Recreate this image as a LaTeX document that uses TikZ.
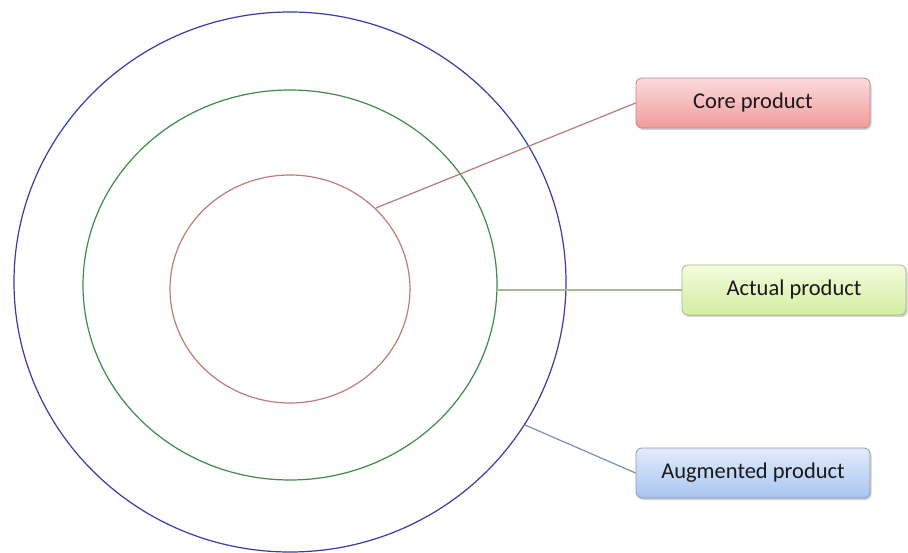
\documentclass[tikz,border=0pt]{standalone}
\usepackage{fontspec}
\setmainfont{Carlito}
\usetikzlibrary{shadows}
\definecolor{ringblue}{HTML}{3A3AA8}
\definecolor{ringgreen}{HTML}{3C8C48}
\definecolor{ringred}{HTML}{C07A7A}
\definecolor{linkred}{HTML}{B87A78}
\definecolor{linkgreen}{HTML}{A8B890}
\definecolor{linkblue}{HTML}{7890B0}
\definecolor{coretop}{HTML}{FCDADA}
\definecolor{corebot}{HTML}{F09C9C}
\definecolor{coreedge}{HTML}{C08888}
\definecolor{acttop}{HTML}{F4FCDC}
\definecolor{actbot}{HTML}{D2EEA0}
\definecolor{actedge}{HTML}{A8B890}
\definecolor{augtop}{HTML}{E2ECFC}
\definecolor{augbot}{HTML}{A8C4F0}
\definecolor{augedge}{HTML}{8898B8}
\tikzset{
  ring/.style={line width=1.2pt},
  link/.style={line width=1.2pt},
  label box/.style={rounded corners=6pt, minimum height=50pt, align=center,
    font=\fontsize{22.5}{26}\selectfont, text=black!90, line width=0.8pt,
    drop shadow={shadow xshift=1.5pt, shadow yshift=-2pt, opacity=0.35}},
  corebox/.style={label box, draw=coreedge, minimum width=234pt,
    top color=coretop, bottom color=corebot},
  actualbox/.style={label box, draw=actedge, minimum width=224pt,
    top color=acttop, bottom color=actbot},
  augbox/.style={label box, draw=augedge, minimum width=234pt,
    top color=augtop, bottom color=augbot},
}
\begin{document}
\begin{tikzpicture}[x=1pt, y=-1pt]
  \useasboundingbox[fill=white] (0,0) rectangle (908,553);
  % three nested product levels
  \draw[ring, ringblue]  (290,282) ellipse [x radius=276, y radius=270];
  \draw[ring, ringgreen] (290,285) ellipse [x radius=207, y radius=195];
  \draw[ring, ringred]   (290,289) ellipse [x radius=120, y radius=114];
  % anchor points on the rings
  \coordinate (onred)   at (376,208);
  \coordinate (ongreen) at (497,290);
  \coordinate (onblue)  at (525,425);
  % labels
  \node[corebox]   (core)   at (753,103)   {Core product};
  \node[actualbox] (actual) at (794,290)   {Actual product};
  \node[augbox]    (aug)    at (753,473)   {Augmented product};
  % connectors
  \draw[link, linkred]   (onred)   -- (core.west);
  \draw[link, linkgreen] (ongreen) -- (actual.west);
  \draw[link, linkblue]  (onblue)  -- (aug.west);
\end{tikzpicture}
\end{document}
